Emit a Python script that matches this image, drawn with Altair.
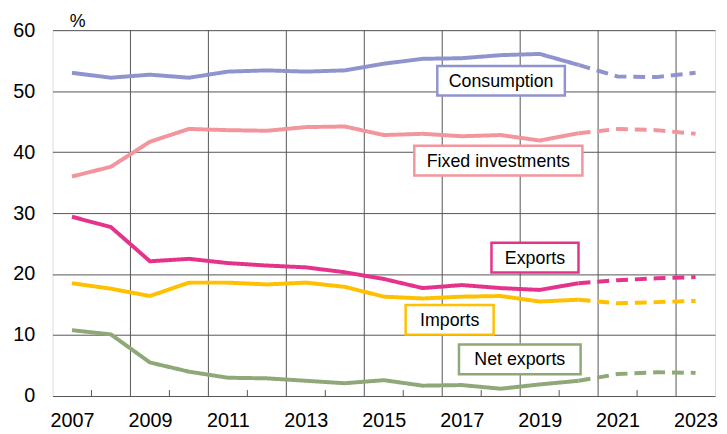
import altair as alt
import pandas as pd

years = list(range(2007, 2024))
series_names = ["Consumption", "Fixed investments", "Exports", "Imports", "Net exports"]
colors = ["#9094CE", "#F2959C", "#E5338C", "#FFC000", "#8EA878"]

consumption = [53.0, 52.2, 52.7, 52.2, 53.2, 53.4, 53.2, 53.4, 54.5, 55.3, 55.4, 55.9, 56.1, 54.3, 52.4, 52.3, 53.0]
fixed_inv = [36.0, 37.6, 41.7, 43.8, 43.6, 43.5, 44.1, 44.2, 42.8, 43.0, 42.6, 42.8, 41.9, 43.1, 43.8, 43.6, 43.0]
exports = [29.4, 27.7, 22.1, 22.5, 21.8, 21.4, 21.1, 20.3, 19.2, 17.7, 18.2, 17.7, 17.4, 18.5, 19.0, 19.3, 19.5]
imports = [18.5, 17.6, 16.4, 18.6, 18.6, 18.3, 18.6, 17.9, 16.3, 16.0, 16.3, 16.4, 15.5, 15.8, 15.2, 15.4, 15.6]
net_exports = [10.8, 10.1, 5.5, 4.0, 3.0, 2.9, 2.5, 2.1, 2.6, 1.7, 1.8, 1.2, 1.9, 2.5, 3.6, 3.9, 3.8]
last_actual = 2020

x_labels = [2007, 2009, 2011, 2013, 2015, 2017, 2019, 2021, 2023]
y_ticks = [0, 10, 20, 30, 40, 50, 60]

# label boxes: anchor (year, value) and box size in px
label_year = [2018.01, 2017.94, 2018.88, 2016.69, 2018.49]
label_value = [51.7, 38.6, 22.7, 12.5, 6.0]
box_w = [129, 170, 88, 89, 123]
box_h = 30

W, H = 670, 370
x0, x1 = 2006.5, 2023.5
y0, y1 = 0, 60
px_x = W / (x1 - x0)
px_y = H / (y1 - y0)

all_values = [consumption, fixed_inv, exports, imports, net_exports]
rows = []
for name, vals in zip(series_names, all_values):
    for yr, v in zip(years, vals):
        if yr <= last_actual:
            rows.append({"series": name, "year": yr, "value": v, "seg": "actual", "key": name + "a"})
        if yr >= last_actual:
            rows.append({"series": name, "year": yr, "value": v, "seg": "outlook", "key": name + "o"})
df = pd.DataFrame(rows)

lab = pd.DataFrame({
    "series": series_names,
    "x": label_year,
    "y": label_value,
})
lab["xa"] = [xx - w / 2 / px_x for xx, w in zip(label_year, box_w)]
lab["xb"] = [xx + w / 2 / px_x for xx, w in zip(label_year, box_w)]
lab["ya"] = [yy - box_h / 2 / px_y for yy in label_value]
lab["yb"] = [yy + box_h / 2 / px_y for yy in label_value]

xscale = alt.Scale(domain=[x0, x1], nice=False, zero=False)
yscale = alt.Scale(domain=[y0, y1], nice=False)
cscale = alt.Scale(domain=series_names, range=colors)

grid_x = pd.DataFrame({"b": [2008.5 + 2 * i for i in range(8)]})
tick_x = pd.DataFrame({"b": [2007.5 + 2 * i for i in range(8)]})

base_x = alt.X("year:Q", scale=xscale,
               axis=alt.Axis(values=x_labels, format="d", grid=False, ticks=False, domain=False,
                             labelFontSize=20, labelColor="#000", labelFont="Liberation Sans",
                             labelPadding=15, title=None, labelFlush=False))
base_y = alt.Y("value:Q", scale=yscale,
               axis=alt.Axis(values=y_ticks, grid=True, gridColor="#555555", gridWidth=1,
                             ticks=False, domain=False, labelFontSize=20, labelColor="#000",
                             labelFont="Liberation Sans", labelPadding=18,
                             title="%", titleAngle=0, titleAlign="left", titleBaseline="alphabetic",
                             titleX=17, titleY=-4, titleFontSize=18, titleFontWeight="normal",
                             titleFont="Liberation Sans", titleColor="#000"))

lines = alt.Chart(df).mark_line(strokeWidth=4, strokeCap="butt").encode(
    x=base_x,
    y=base_y,
    color=alt.Color("series:N", scale=cscale, legend=None),
    strokeDash=alt.StrokeDash("seg:N", scale=alt.Scale(domain=["actual", "outlook"], range=[[1, 0], [12, 7]]), legend=None),
    detail="key:N",
)

vgrid = alt.Chart(grid_x).mark_rule(color="#555555", strokeWidth=1).encode(
    x=alt.X("b:Q", scale=xscale)
)
vticks = alt.Chart(tick_x).mark_rule(color="#555555", strokeWidth=1).encode(
    x=alt.X("b:Q", scale=xscale),
    y=alt.value(H - 6), y2=alt.value(H)
)

boxes = alt.Chart(lab).mark_rect(fill="white", strokeWidth=2.5).encode(
    x=alt.X("xa:Q", scale=xscale), x2="xb:Q",
    y=alt.Y("ya:Q", scale=yscale), y2="yb:Q",
    stroke=alt.Color("series:N", scale=cscale, legend=None),
)
texts = alt.Chart(lab).mark_text(fontSize=18, font="Liberation Sans", color="#000", baseline="middle", dy=1).encode(
    x=alt.X("x:Q", scale=xscale),
    y=alt.Y("y:Q", scale=yscale),
    text="series:N",
)

chart = alt.layer(vgrid, vticks, lines, boxes, texts).properties(
    width=W, height=H,
    autosize=alt.AutoSizeParams(type="none"),
    padding={"left": 45, "top": 20, "right": 4, "bottom": 36},
).configure_view(stroke="#333333", strokeWidth=1.2).configure(background="white")

chart.save("out.html", embed_options={"renderer": "svg", "actions": False})
